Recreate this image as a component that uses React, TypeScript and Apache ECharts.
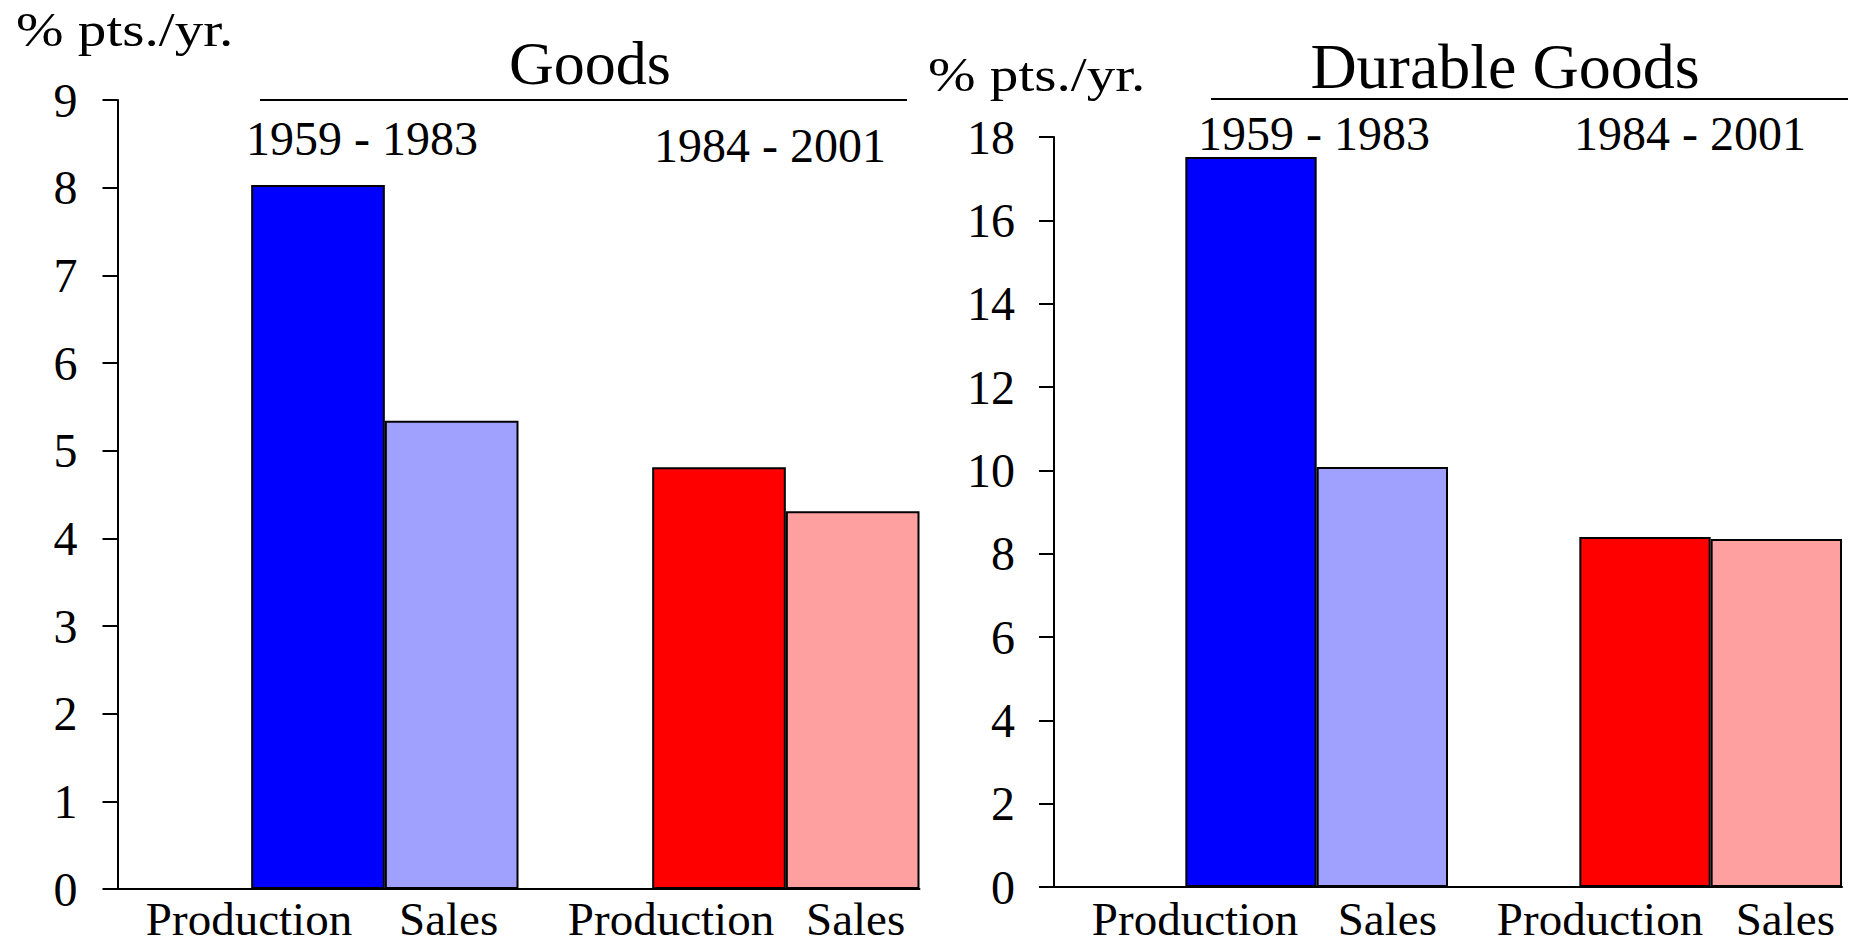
import React, { useEffect, useRef } from "react";
import * as echarts from "echarts";

const categories = ["", "Production", "Sales", "", "Production", "Sales"];
const goodsValues: (number | string)[] = ["-", 8.03, 5.34, "-", 4.81, 4.31];
const durableValues: (number | string)[] = ["-", 17.52, 10.08, "-", 8.4, 8.35];
const barColors = ["#ffffff", "#0000FF", "#A0A0FF", "#ffffff", "#FF0000", "#FFA0A0"];
const goodsTicks = { min: 0, max: 9, interval: 1 };
const durableTicks = { min: 0, max: 18, interval: 2 };
const unitLabel = "% pts./yr.";
const periodLabels = ["1959 - 1983", "1984 - 2001"];
const panelTitles = ["Goods", "Durable Goods"];

const FONT = "Liberation Serif";
const CAT_SIZE = 47;

// per-category horizontal label shifts (px) for each panel
const goodsLabelShift = [0, -69, -3, 0, -48, 3];
const durableLabelShift = [0, -56, 5, 0, -45, 9];

function catData(shifts: number[]) {
  return categories.map((c, i) => {
    const s = shifts[i];
    const pad = s < 0 ? [0, -2 * s, 0, 0] : [0, 0, 0, 2 * s];
    return { value: c, textStyle: { padding: pad, fontFamily: FONT, fontSize: CAT_SIZE, color: "#000", lineHeight: 30 } };
  });
}

function barData(values: (number | string)[]) {
  return values.map((v, i) => ({
    value: v,
    itemStyle: { color: barColors[i], borderColor: "#000", borderWidth: 2 },
  }));
}

function txt(text: string, x: number, y: number, size: number, align: string, scaleX = 1) {
  return {
    type: "text",
    x,
    y,
    scaleX,
    style: {
      text,
      fill: "#000",
      fontSize: size,
      fontFamily: FONT,
      align,
      verticalAlign: "middle",
    },
  };
}

export default function App() {
  const ref = useRef<HTMLDivElement>(null);
  useEffect(() => {
    if (!ref.current) return;
    const chart = echarts.init(ref.current, undefined, { renderer: "svg" });
    const axisLineStyle = { color: "#000", width: 2 };
    const yLabel = (margin: number) => ({
      color: "#000",
      fontSize: 48,
      fontFamily: FONT,
      margin,
    });
    const xLabel = (margin: number) => ({
      interval: 0,
      color: "#000",
      fontSize: CAT_SIZE,
      fontFamily: FONT,
      lineHeight: 30,
      margin,
    });
    const option: any = {
      animation: false,
      backgroundColor: "#fff",
      textStyle: { fontFamily: FONT },
      grid: [
        { left: 117.5, top: 100, width: 802, height: 789, containLabel: false, outerBoundsMode: "none" },
        { left: 1054, top: 137, width: 788, height: 750, containLabel: false, outerBoundsMode: "none" },
      ],
      xAxis: [
        {
          type: "category",
          gridIndex: 0,
          data: catData(goodsLabelShift),
          boundaryGap: true,
          axisLine: { lineStyle: axisLineStyle },
          axisTick: { show: false },
          axisLabel: xLabel(15),
          splitLine: { show: false },
        },
        {
          type: "category",
          gridIndex: 1,
          data: catData(durableLabelShift),
          boundaryGap: true,
          axisLine: { lineStyle: axisLineStyle },
          axisTick: { show: false },
          axisLabel: xLabel(17),
          splitLine: { show: false },
        },
      ],
      yAxis: [
        {
          type: "value",
          gridIndex: 0,
          ...goodsTicks,
          axisLine: { show: true, lineStyle: axisLineStyle },
          axisTick: { show: true, length: 15, lineStyle: axisLineStyle },
          axisLabel: yLabel(40),
          splitLine: { show: false },
        },
        {
          type: "value",
          gridIndex: 1,
          ...durableTicks,
          axisLine: { show: true, lineStyle: axisLineStyle },
          axisTick: { show: true, length: 15, lineStyle: axisLineStyle },
          axisLabel: yLabel(39),
          splitLine: { show: false },
        },
      ],
      series: [
        {
          type: "bar",
          xAxisIndex: 0,
          yAxisIndex: 0,
          data: barData(goodsValues),
          barCategoryGap: "0%",
          barWidth: "100%",
        },
        {
          type: "bar",
          xAxisIndex: 1,
          yAxisIndex: 1,
          data: barData(durableValues),
          barCategoryGap: "0%",
          barWidth: "100%",
        },
      ],
      graphic: [
        txt(unitLabel, 16, 29.5, 48, "left", 1.19),
        txt(panelTitles[0], 590, 63, 62, "center"),
        { type: "line", shape: { x1: 260, y1: 100, x2: 907, y2: 100 }, style: { stroke: "#000", lineWidth: 2 } },
        txt(periodLabels[0], 362, 138, 48, "center"),
        txt(periodLabels[1], 770, 145.5, 48, "center"),
        txt(unitLabel, 928, 74.5, 48, "left", 1.19),
        txt(panelTitles[1], 1505, 66.5, 64, "center"),
        { type: "line", shape: { x1: 1211, y1: 99, x2: 1848, y2: 99 }, style: { stroke: "#000", lineWidth: 2 } },
        txt(periodLabels[0], 1314, 133, 48, "center"),
        txt(periodLabels[1], 1690, 133, 48, "center"),
      ],
    };
    chart.setOption(option);
    return () => chart.dispose();
  }, []);
  return (
    <div
      ref={ref}
      style={{ position: "fixed", left: 0, top: 0, width: 1853, height: 946, background: "#fff" }}
    />
  );
}
